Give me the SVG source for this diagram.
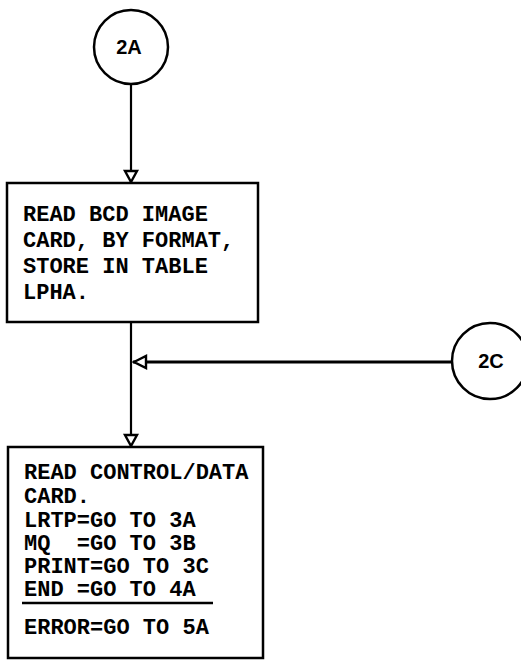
<svg xmlns="http://www.w3.org/2000/svg" width="521" height="665" viewBox="0 0 521 665">
<style>
.bg{fill:#fff}
.node{fill:#fff;stroke:#000;stroke-width:2.5}
.conn{fill:none;stroke:#000;stroke-width:2.2}
.thick{stroke-width:3.2}
.head{fill:#fff;stroke:#000;stroke-width:2.4;stroke-linejoin:miter}
.t{font-family:"Liberation Mono","Courier New",monospace;font-weight:bold;font-size:22px;fill:#000}
.c{font-family:"Liberation Sans",Arial,sans-serif;font-weight:bold;font-size:20px;fill:#000;text-anchor:middle;dominant-baseline:central}
</style>
<rect class="bg" x="0" y="0" width="521" height="665"/>
<g id="connectors">
  <line class="conn" x1="131" y1="85" x2="131" y2="183"/>
  <polygon class="head" points="125,171 137,171 131,182"/>
  <line class="conn" x1="131" y1="322" x2="131" y2="447"/>
  <polygon class="head" points="125,435 137,435 131,446"/>
  <line class="conn thick" x1="133" y1="362" x2="452" y2="362"/>
  <polygon class="head" points="134,362 146,356 146,368"/>
</g>
<g id="node-2A">
  <circle class="node" cx="131" cy="47" r="37"/>
  <text class="c" x="129" y="47">2A</text>
</g>
<g id="node-read-bcd">
  <rect class="node" x="7" y="183" width="251" height="139"/>
  <text class="t" x="23" y="221">READ BCD IMAGE</text>
  <text class="t" x="23" y="247">CARD, BY FORMAT,</text>
  <text class="t" x="23" y="273">STORE IN TABLE</text>
  <text class="t" x="23" y="299">LPHA.</text>
</g>
<g id="node-2C">
  <circle class="node" cx="490" cy="361" r="38"/>
  <text class="c" x="491" y="361">2C</text>
</g>
<g id="node-read-control">
  <rect class="node" x="8" y="447" width="255" height="211"/>
  <text class="t" x="24" y="479">READ CONTROL/DATA</text>
  <text class="t" x="24" y="503">CARD.</text>
  <text class="t" x="24" y="527">LRTP=GO TO 3A</text>
  <text class="t" x="24" y="550" xml:space="preserve">MQ  =GO TO 3B</text>
  <text class="t" x="24" y="573">PRINT=GO TO 3C</text>
  <text class="t" x="24" y="596">END =GO TO 4A</text>
  <line x1="22" y1="603" x2="213" y2="603" stroke="#000" stroke-width="2.4"/>
  <text class="t" x="24" y="634">ERROR=GO TO 5A</text>
</g>
</svg>
